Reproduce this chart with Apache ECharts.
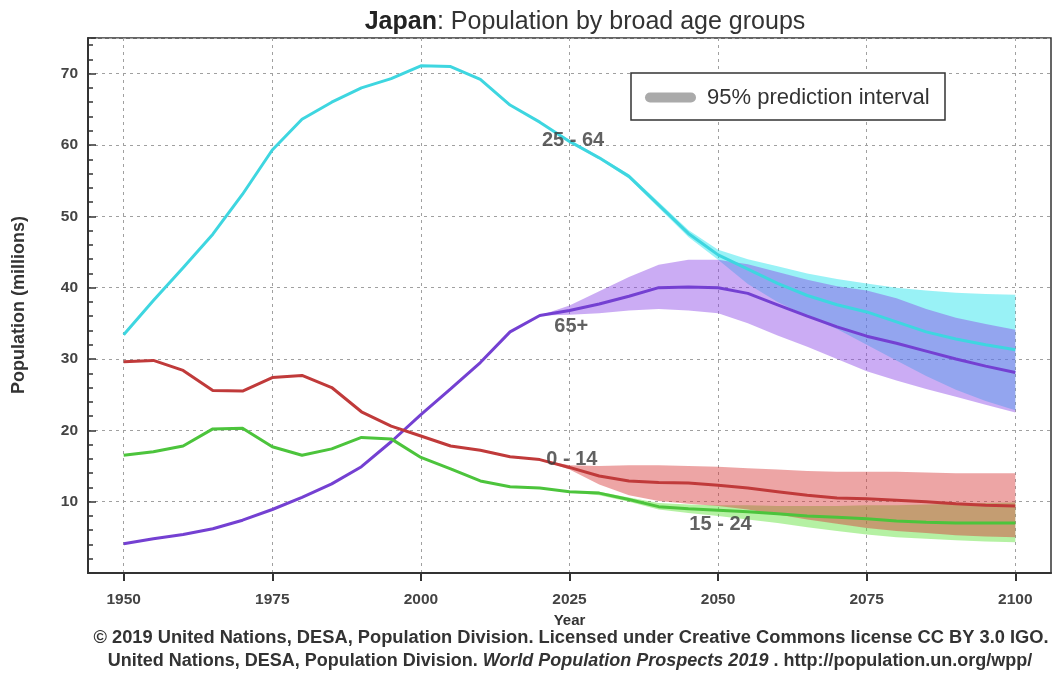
<!DOCTYPE html>
<html><head><meta charset="utf-8">
<script src="https://cdn.jsdelivr.net/npm/echarts@6/dist/echarts.min.js"></script>
<style>html,body{margin:0;padding:0;background:#fff}#c{width:1058px;height:673px}</style>
</head><body><div id="c"></div>
<script>
// ---- data (millions) ----
const years = [1950,1955,1960,1965,1970,1975,1980,1985,1990,1995,2000,2005,2010,2015,2020,2025,2030,2035,2040,2045,2050,2055,2060,2065,2070,2075,2080,2085,2090,2095,2100];
const age25_64 = [33.4,38.2,42.8,47.5,53.1,59.3,63.6,66.0,68.0,69.3,71.1,71.0,69.2,65.6,63.2,60.5,58.2,55.6,51.6,47.6,44.6,42.6,40.6,38.9,37.6,36.6,35.2,33.8,32.8,32.0,31.3];
const age65plus = [4.1,4.8,5.4,6.2,7.4,8.9,10.6,12.5,14.9,18.4,22.2,25.8,29.5,33.8,36.1,36.8,37.7,38.8,40.0,40.1,40.0,39.2,37.6,36.0,34.5,33.2,32.2,31.1,30.0,29.0,28.1];
const age0_14 = [29.6,29.8,28.4,25.6,25.5,27.4,27.7,26.0,22.6,20.6,19.2,17.8,17.2,16.3,15.9,14.8,13.6,12.9,12.7,12.6,12.3,11.9,11.4,10.9,10.5,10.4,10.2,10.0,9.7,9.5,9.4];
const age15_24 = [16.5,17.0,17.8,20.2,20.3,17.7,16.5,17.4,19.0,18.8,16.2,14.6,12.9,12.1,11.9,11.4,11.2,10.3,9.3,9.0,8.8,8.6,8.3,8.0,7.8,7.6,7.3,7.1,7.0,7.0,7.0];

const projYears = [2020,2025,2030,2035,2040,2045,2050,2055,2060,2065,2070,2075,2080,2085,2090,2095,2100];
const age25_64Lo = [63.2,60.3,58.0,55.3,51.2,47.1,43.9,40.5,38.0,36.0,34.2,32.0,29.8,27.6,25.7,24.1,22.8];
const age25_64Hi = [63.2,60.7,58.4,55.9,52.0,48.1,45.3,44.0,43.0,42.0,41.2,40.6,40.0,39.6,39.3,39.1,39.0];
const age65Lo = [36.1,36.2,36.4,36.8,37.0,36.8,36.4,35.0,33.3,31.7,30.0,28.3,27.0,25.8,24.7,23.6,22.5];
const age65Hi = [36.1,37.5,39.5,41.5,43.2,43.9,43.9,43.3,42.2,41.1,40.2,39.6,38.5,37.0,35.8,34.9,34.1];
const age0_14Lo = [15.9,14.5,12.4,10.9,10.1,9.7,9.4,8.9,8.2,7.5,6.9,6.3,5.9,5.6,5.3,5.1,5.0];
const age0_14Hi = [15.9,15.1,15.0,15.1,15.1,15.0,14.9,14.7,14.5,14.3,14.2,14.2,14.2,14.1,14.0,14.0,14.0];
const age15_24Lo = [11.9,11.3,10.9,10.0,8.9,8.4,8.0,7.5,7.0,6.4,5.9,5.4,5.0,4.8,4.6,4.4,4.3];
const age15_24Hi = [11.9,11.5,11.4,10.6,9.8,9.6,9.5,9.5,9.4,9.4,9.4,9.5,9.5,9.6,9.7,9.8,9.9];

const xTicks = [1950,1975,2000,2025,2050,2075,2100];
const labelText = ['25 - 64','65+','0 - 14','15 - 24'];
const labelYear = [2025.6,2025.3,2025.4,2050.4];
const labelValue = [60.6,34.6,15.9,6.8];

// ---- build ----
const FONT = 'Liberation Sans, Arial, sans-serif';
const pairs = (xs, ys) => xs.map((x, i) => [x, ys[i]]);

// prediction band drawn as one polygon through the chart's own coordinate system
function band(id, lo, hi, color) {
  return {
    type:'custom', name:id+'_band', silent:true, z:2, clip:true,
    data: pairs(projYears, hi),
    renderItem: function (params, api) {
      if (params.dataIndex !== 0) return null;
      const pts = [];
      for (let i = 0; i < projYears.length; i++) pts.push(api.coord([projYears[i], hi[i]]));
      for (let i = projYears.length - 1; i >= 0; i--) pts.push(api.coord([projYears[i], lo[i]]));
      return {type:'polygon', shape:{points:pts}, style:{fill:color, stroke:null}};
    }
  };
}
function line(id, vals, color) {
  return {type:'line', name:id, data:pairs(years, vals), symbol:'none',
    lineStyle:{color:color, width:3}, silent:true, z:2};
}

const series = [
  band('c', age25_64Lo, age25_64Hi, 'rgba(0,222,232,0.40)'),
  line('25-64', age25_64, '#3ed6e0'),
  band('p', age65Lo, age65Hi, 'rgba(140,70,230,0.45)'),
  line('65+', age65plus, '#7440d2'),
  band('g', age15_24Lo, age15_24Hi, 'rgba(90,225,50,0.45)'),
  band('r', age0_14Lo, age0_14Hi, 'rgba(215,55,55,0.45)'),
  line('0-14', age0_14, '#c03a3a'),
  line('15-24', age15_24, '#4cc43c'),
  {type:'scatter', name:'labels', symbol:'circle', symbolSize:1, itemStyle:{color:'rgba(0,0,0,0)'}, silent:true, z:5,
    data: labelText.map((t,i)=>({value:[labelYear[i], labelValue[i]], label:{formatter:t}})),
    label:{show:true, position:'inside', fontSize:20, fontWeight:'bold', color:'#3a3a3a', fontFamily:FONT}}
];

const chart = echarts.init(document.getElementById('c'), null, {renderer:'canvas'});
chart.setOption({
  animation:false,
  backgroundColor:'#fff',
  grid:{left:88, right:7, top:38, bottom:100, show:true, borderColor:'#333', borderWidth:1.5, outerBoundsMode:'none', containLabel:false},
  xAxis:{type:'value', min:1944, max:2106,
    name:'Year', nameLocation:'middle', nameGap:38,
    nameTextStyle:{fontSize:15, fontWeight:'bold', color:'#333', fontFamily:FONT},
    axisLine:{show:true, lineStyle:{color:'#333', width:2}},
    axisTick:{show:true, customValues:xTicks, length:8, lineStyle:{color:'#333', width:2}},
    axisLabel:{customValues:xTicks, margin:19, fontSize:15.5, fontWeight:'bold', color:'#444', fontFamily:FONT,
      formatter: v => String(v)},
    splitLine:{show:true, lineStyle:{color:'#a0a0a0', type:[3,4], width:1}}
  },
  yAxis:{type:'value', min:0, max:75, interval:10,
    axisLine:{show:true, lineStyle:{color:'#333', width:2}},
    axisTick:{show:true, inside:true, length:8, lineStyle:{color:'#333', width:1.5}},
    minorTick:{show:true, splitNumber:5, length:5, lineStyle:{color:'#333', width:1.5}},
    axisLabel:{showMinLabel:false, showMaxLabel:false, margin:10, fontSize:15.5, fontWeight:'bold', color:'#444', fontFamily:FONT},
    splitLine:{show:true, lineStyle:{color:'#a0a0a0', type:[3,4], width:1}}
  },
  graphic:[
    {type:'text', x:585, y:22, style:{text:'{b|Japan}: Population by broad age groups',
      rich:{b:{fontWeight:'bold', fontSize:25, fill:'#222', fontFamily:FONT}},
      fontSize:25, fill:'#333', fontFamily:FONT, align:'center', verticalAlign:'middle'}},
    {type:'text', x:19, y:305, rotation:Math.PI/2, style:{text:'Population (millions)', fontSize:18, fontWeight:'bold',
      fill:'#333', fontFamily:FONT, align:'center', verticalAlign:'middle'}},
    {type:'group', children:[
      {type:'rect', shape:{x:631, y:73, width:314, height:47}, style:{fill:'#fff', stroke:'#333', lineWidth:1.5}, z:10},
      {type:'line', shape:{x1:650, y1:97.5, x2:691, y2:97.5}, style:{stroke:'#aaaaaa', lineWidth:10, lineCap:'round'}, z:11},
      {type:'text', x:707, y:97.5, style:{text:'95% prediction interval', fontSize:22, fill:'#333', fontFamily:FONT,
        align:'left', verticalAlign:'middle'}, z:11}
    ]},
    {type:'text', x:571, y:638, style:{text:'\u00a9 2019 United Nations, DESA, Population Division. Licensed under Creative Commons license CC BY 3.0 IGO.',
      fontSize:18.3, fontWeight:'bold', fill:'#333', fontFamily:FONT, align:'center', verticalAlign:'middle'}},
    {type:'text', x:570, y:661, style:{text:'{n|United Nations, DESA, Population Division. }{i|World Population Prospects 2019}{n| . http://population.un.org/wpp/}',
      rich:{n:{fontSize:18, fontWeight:'bold', fill:'#333', fontFamily:FONT},
            i:{fontSize:18, fontWeight:'bold', fontStyle:'italic', fill:'#333', fontFamily:FONT}},
      fontSize:18, fontWeight:'bold', fill:'#333', fontFamily:FONT, align:'center', verticalAlign:'middle'}}
  ],
  series: series
});
</script>
</body></html>
